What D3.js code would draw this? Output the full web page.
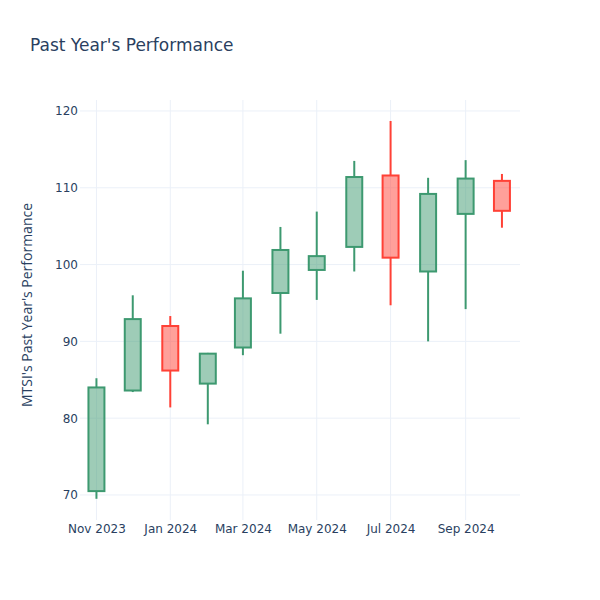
<!DOCTYPE html>
<html>
<head>
<meta charset="utf-8">
<script src="https://cdn.jsdelivr.net/npm/d3@7"></script>
<style>
  html, body { margin: 0; padding: 0; background: #fff; }
  svg { display: block; }
</style>
</head>
<body>
<div id="chart"></div>
<script>
// ---- data ----
const months = ["2023-11-01","2023-12-01","2024-01-01","2024-02-01","2024-03-01","2024-04-01",
                "2024-05-01","2024-06-01","2024-07-01","2024-08-01","2024-09-01","2024-10-01"];
const openVals  = [70.5, 83.6, 92.0, 84.5, 89.2, 96.3, 99.3, 102.3, 111.6, 99.1, 106.6, 110.9];
const highVals  = [85.2, 96.0, 93.3, 88.5, 99.2, 104.9, 106.9, 113.5, 118.7, 111.3, 113.6, 111.8];
const lowVals   = [69.5, 83.4, 81.4, 79.2, 88.2, 91.0, 95.4, 99.1, 94.7, 90.0, 94.2, 104.8];
const closeVals = [84.0, 92.9, 86.2, 88.4, 95.6, 101.9, 101.1, 111.4, 100.9, 109.2, 111.2, 107.0];
const xTickDates = ["2023-11-01","2024-01-01","2024-03-01","2024-05-01","2024-07-01","2024-09-01"];
const yTickVals = [70, 80, 90, 100, 110, 120];

const titleText = "Past Year's Performance";
const yTitleText = "MTSI's Past Year's Performance";

// ---- layout ----
const W = 600, H = 600;
const plot = { left: 80, right: 520, top: 100, bottom: 520 };
const incColor = "#3D9970", decColor = "#FF4136";
const gridColor = "#EBF0F8", textColor = "#2a3f5f";
const font = "'DejaVu Sans', sans-serif";

const parse = d3.utcParse("%Y-%m-%d");
const data = months.map((m, i) => ({
  date: parse(m), open: openVals[i], high: highVals[i], low: lowVals[i], close: closeVals[i]
}));

const x = d3.scaleUtc()
  .domain([new Date(Date.UTC(2023, 9, 18, 10)), new Date(Date.UTC(2024, 9, 15, 22))])
  .range([plot.left, plot.right]);
const y = d3.scaleLinear().domain([66.74, 121.43]).range([plot.bottom, plot.top]);

const svg = d3.select("#chart").append("svg").attr("width", W).attr("height", H);

// grid
const grid = svg.append("g");
grid.selectAll("line.h").data(yTickVals).enter().append("line")
  .attr("x1", plot.left).attr("x2", plot.right)
  .attr("y1", d => y(d)).attr("y2", d => y(d))
  .attr("stroke", gridColor).attr("stroke-width", 1);
grid.selectAll("line.v").data(xTickDates.map(parse)).enter().append("line")
  .attr("y1", plot.top).attr("y2", plot.bottom)
  .attr("x1", d => x(d)).attr("x2", d => x(d))
  .attr("stroke", gridColor).attr("stroke-width", 1);

// axes (labels only)
const yAxis = d3.axisLeft(y).tickValues(yTickVals).tickSize(0).tickPadding(0);
const gy = svg.append("g").attr("transform", `translate(${plot.left - 2},0)`).call(yAxis);
gy.select(".domain").remove();
gy.selectAll("text").attr("font-family", font).attr("font-size", 12).attr("fill", textColor);

const xAxis = d3.axisBottom(x).tickValues(xTickDates.map(parse)).tickFormat(d3.utcFormat("%b %Y")).tickSize(0).tickPadding(0);
const gx = svg.append("g").attr("transform", `translate(0,${plot.bottom + 1})`).call(xAxis);
gx.select(".domain").remove();
gx.selectAll("text").attr("font-family", font).attr("font-size", 12).attr("fill", textColor).attr("dy", "1em");

// candles
const halfDays = 6.6 * 24 * 3600 * 1000;
const candles = svg.append("g").selectAll("g").data(data).enter().append("g");
candles.each(function(d) {
  const g = d3.select(this);
  const inc = d.close >= d.open;
  const col = inc ? incColor : decColor;
  const top = Math.max(d.open, d.close), bot = Math.min(d.open, d.close);
  const cx = x(d.date);
  const x0 = x(new Date(+d.date - halfDays)), x1 = x(new Date(+d.date + halfDays));
  g.append("line").attr("x1", cx).attr("x2", cx).attr("y1", y(d.high)).attr("y2", y(top))
    .attr("stroke", col).attr("stroke-width", 2);
  g.append("line").attr("x1", cx).attr("x2", cx).attr("y1", y(bot)).attr("y2", y(d.low))
    .attr("stroke", col).attr("stroke-width", 2);
  g.append("rect").attr("x", x0).attr("width", x1 - x0)
    .attr("y", y(top)).attr("height", y(bot) - y(top))
    .attr("fill", col).attr("fill-opacity", 0.5)
    .attr("stroke", col).attr("stroke-width", 2);
});

// titles
svg.append("text").attr("x", 30).attr("y", 50.5)
  .attr("font-family", font).attr("font-size", 17).attr("fill", textColor).text(titleText);
svg.append("text").attr("transform", `translate(32,${(plot.top + plot.bottom) / 2 - 5}) rotate(-90)`)
  .attr("text-anchor", "middle")
  .attr("font-family", "'Open Sans', sans-serif").attr("font-size", 14).attr("fill", textColor).text(yTitleText);
</script>
</body>
</html>
